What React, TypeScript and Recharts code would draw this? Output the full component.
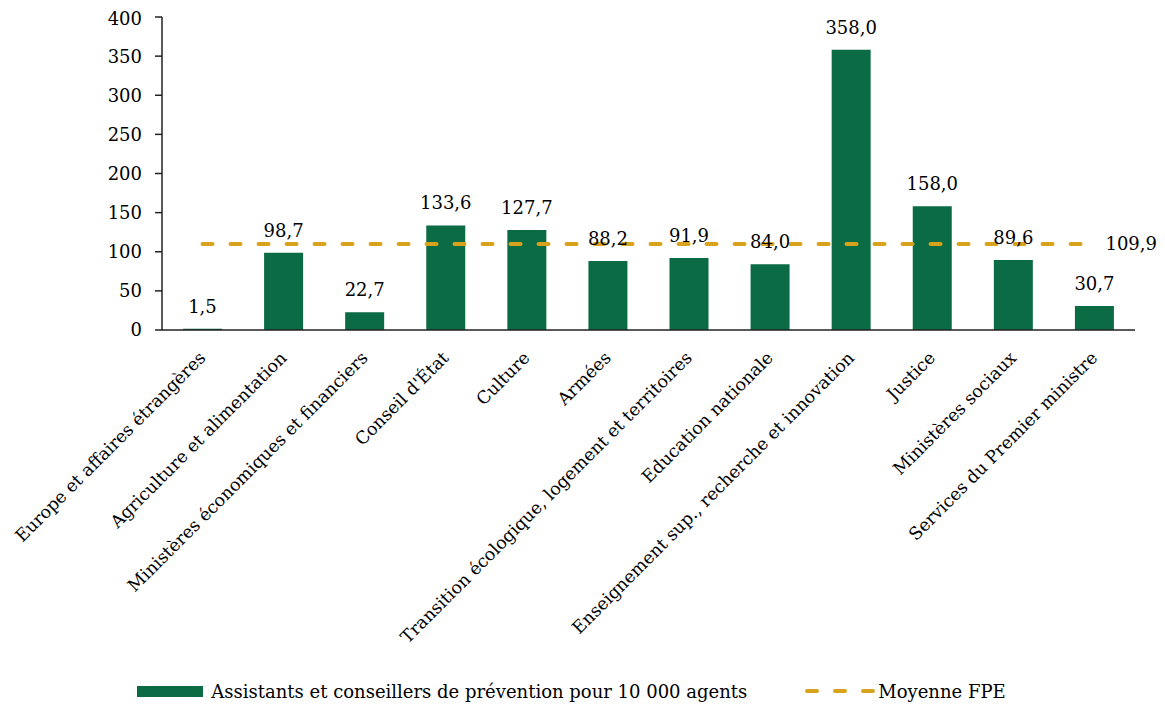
import React from "react";
import { ComposedChart, Bar, Line, XAxis, YAxis, LabelList, Legend } from "recharts";

const categories: string[] = [
  "Europe et affaires étrangères",
  "Agriculture et alimentation",
  "Ministères économiques et financiers",
  "Conseil d'État",
  "Culture",
  "Armées",
  "Transition écologique, logement et territoires",
  "Education nationale",
  "Enseignement sup., recherche et innovation",
  "Justice",
  "Ministères sociaux",
  "Services du Premier ministre",
];
const assistants: number[] = [1.5, 98.7, 22.7, 133.6, 127.7, 88.2, 91.9, 84.0, 358.0, 158.0, 89.6, 30.7];
const moyenneFPE: number[] = [109.9, 109.9, 109.9, 109.9, 109.9, 109.9, 109.9, 109.9, 109.9, 109.9, 109.9, 109.9];
const yTicks: number[] = [0, 50, 100, 150, 200, 250, 300, 350, 400];
const seriesNames = {
  bar: "Assistants et conseillers de prévention pour 10 000 agents",
  line: "Moyenne FPE",
};

const data = categories.map((c, i) => ({ name: c, assistants: assistants[i], moyenne: moyenneFPE[i] }));

const FONT = "'DejaVu Serif', serif";
const GREEN = "#0B6B45";
const GOLD = "#D9A21C";
const fmt = (v: any) => Number(v).toFixed(1).replace(".", ",");

const XTick = (props: any) => {
  const { x, y, payload } = props;
  const ax = x + 4;
  const ay = y + 29;
  return (
    <text
      x={ax}
      y={ay}
      transform={`rotate(-45, ${ax}, ${ay})`}
      textAnchor="end"
      fontFamily={FONT}
      fontSize={17.4}
      fill="#000"
    >
      {payload.value}
    </text>
  );
};

const LineLabel = (props: any) => {
  const { x, y, value, index } = props;
  if (index !== moyenneFPE.length - 1) return null;
  return (
    <text x={x + 11} y={y} dy="0.35em" textAnchor="start" fontFamily={FONT} fontSize={18} fill="#000">
      {fmt(value)}
    </text>
  );
};

const LegendContent = () => (
  <div
    style={{
      display: "flex",
      justifyContent: "center",
      alignItems: "center",
      fontFamily: FONT,
      fontSize: 18,
      color: "#000",
      height: 30,
    }}
  >
    <div style={{ width: 66, height: 11, background: GREEN, marginRight: 8 }} />
    <span>{seriesNames.bar}</span>
    <svg width={70} height={12} style={{ marginLeft: 58, marginRight: 3 }}>
      <line x1={2} y1={6} x2={68} y2={6} stroke={GOLD} strokeWidth={4} strokeDasharray="10 18" strokeLinecap="round" />
    </svg>
    <span>{seriesNames.line}</span>
  </div>
);

export default function App() {
  return (
    <div style={{ fontFamily: FONT }}>
      <ComposedChart width={1157} height={698} data={data} margin={{ top: 9, right: 30, bottom: 0, left: 0 }}>
        <XAxis
          dataKey="name"
          interval={0}
          tickLine={false}
          tickSize={0}
          tickMargin={0}
          height={346}
          axisLine={{ stroke: "#222", strokeWidth: 1.5 }}
          tick={<XTick />}
        />
        <YAxis
          domain={[0, 400]}
          ticks={yTicks}
          width={154}
          tickSize={7}
          tickMargin={13}
          axisLine={{ stroke: "#222", strokeWidth: 1.5 }}
          tickLine={{ stroke: "#222", strokeWidth: 1.5 }}
          tick={{ fontFamily: FONT, fontSize: 18, fill: "#000" }}
        />
        <Legend verticalAlign="bottom" height={30} content={<LegendContent />} />
        <Bar dataKey="assistants" name={seriesNames.bar} fill={GREEN} barSize={39} isAnimationActive={false}>
          <LabelList
            dataKey="assistants"
            position="top"
            offset={16}
            formatter={fmt}
            style={{ fontFamily: FONT, fontSize: 18, fill: "#000" }}
          />
        </Bar>
        <Line
          dataKey="moyenne"
          name={seriesNames.line}
          stroke={GOLD}
          strokeWidth={4}
          strokeDasharray="10 18"
          strokeLinecap="round"
          dot={false}
          activeDot={false}
          isAnimationActive={false}
          label={<LineLabel />}
        />
      </ComposedChart>
    </div>
  );
}
